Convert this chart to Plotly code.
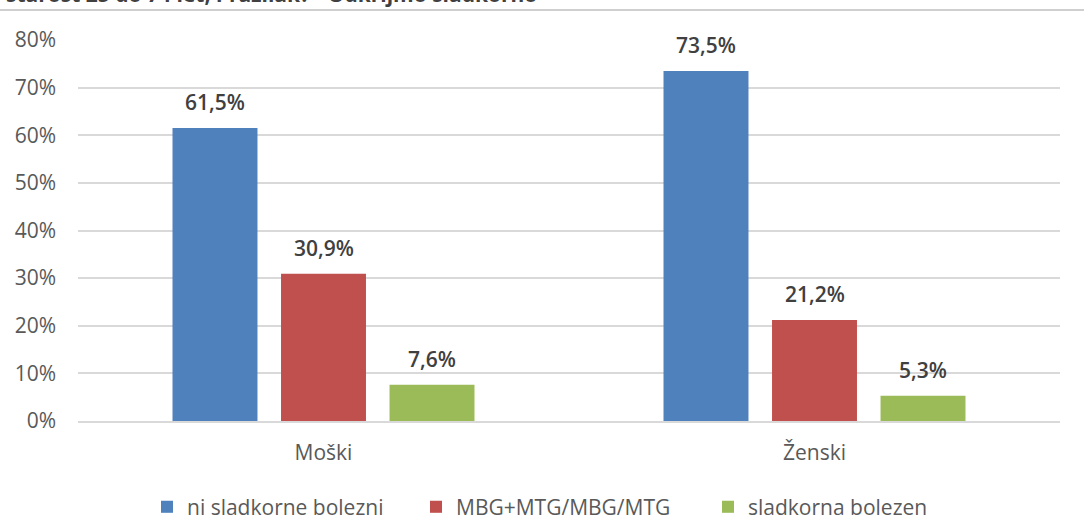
import plotly.graph_objects as go

categories = ["Moški", "Ženski"]
series_names = ["ni sladkorne bolezni", "MBG+MTG/MBG/MTG", "sladkorna bolezen"]
values_ni = [61.5, 73.5]
values_mbg = [30.9, 21.2]
values_sb = [7.6, 5.3]
all_values = [values_ni, values_mbg, values_sb]
colors = ["#4f81bd", "#c0504d", "#9bbb59"]
tick_vals = [0, 10, 20, 30, 40, 50, 60, 70, 80]
tick_text = ["0%", "10%", "20%", "30%", "40%", "50%", "60%", "70%", "80%"]
title_text = "starost 25 do 74 let, Prazilak? - Odkrijmo sladkorno"

FONT = "Open Sans"
SIZE = 21
W, H = 1084, 525
legend_ids = ["legend", "legend2", "legend3"]
legend_left_px = [147, 416, 708]

fig = go.Figure()
for name, vals, col, lg in zip(series_names, all_values, colors, legend_ids):
    fig.add_trace(go.Bar(
        x=categories, y=vals, name=name, legend=lg,
        marker=dict(color=col, line=dict(width=0)),
    ))

# data labels as annotations above each bar
slot_px = 108.5
annotations = []
for i, vals in enumerate(all_values):
    for cat, v in zip(categories, vals):
        annotations.append(dict(
            x=cat, y=v, xref="x", yref="y", text=f"{v:.1f}%".replace(".", ","),
            showarrow=False, xshift=(i - 1) * slot_px, yshift=26, yanchor="middle",
            font=dict(family=FONT, size=SIZE, color="#404040", weight=600)))

annotations.append(dict(text=title_text, xref="paper", yref="paper",
                        x=-0.075, xanchor="left", y=1 + 30/381, yanchor="bottom",
                        showarrow=False,
                        font=dict(family=FONT, size=SIZE, color="#404040", weight="bold")))

legend_style = dict(orientation="h", xref="container", xanchor="left",
                    yref="container", y=0.034, yanchor="middle",
                    font=dict(family=FONT, size=SIZE, color="#595959"),
                    itemwidth=30, bgcolor="rgba(0,0,0,0)")
legends = {lg: dict(legend_style, x=px / W) for lg, px in zip(legend_ids, legend_left_px)}

fig.update_layout(
    width=W, height=H,
    margin=dict(l=78, r=24, t=40, b=104, autoexpand=False),
    paper_bgcolor="white", plot_bgcolor="white",
    barmode="group", bargap=0.337, bargroupgap=0.217,
    font=dict(family=FONT, size=SIZE, color="#595959"),
    showlegend=True,
    annotations=annotations,
    shapes=[dict(type="line", xref="paper", yref="paper", layer="above",
                 x0=-78/982, x1=1 + 24/982, y0=1 + 30/381, y1=1 + 30/381,
                 line=dict(color="#cfcfcf", width=2))],
    **legends,
)
fig.update_yaxes(range=[0, 80], tickvals=tick_vals, ticktext=tick_text,
                 showgrid=True, gridcolor="#d9d9d9", gridwidth=1.5,
                 zeroline=False, showline=False, ticks="",
                 tickfont=dict(family=FONT, size=SIZE, color="#595959"),
                 ticklabelstandoff=21)
fig.update_xaxes(showline=True, linecolor="#d9d9d9", linewidth=1.5,
                 ticks="", tickfont=dict(family=FONT, size=SIZE, color="#595959"),
                 ticklabelstandoff=12)

fig.write_html("out.html", config={"displayModeBar": False},
               post_script="document.body.style.margin='0';")
